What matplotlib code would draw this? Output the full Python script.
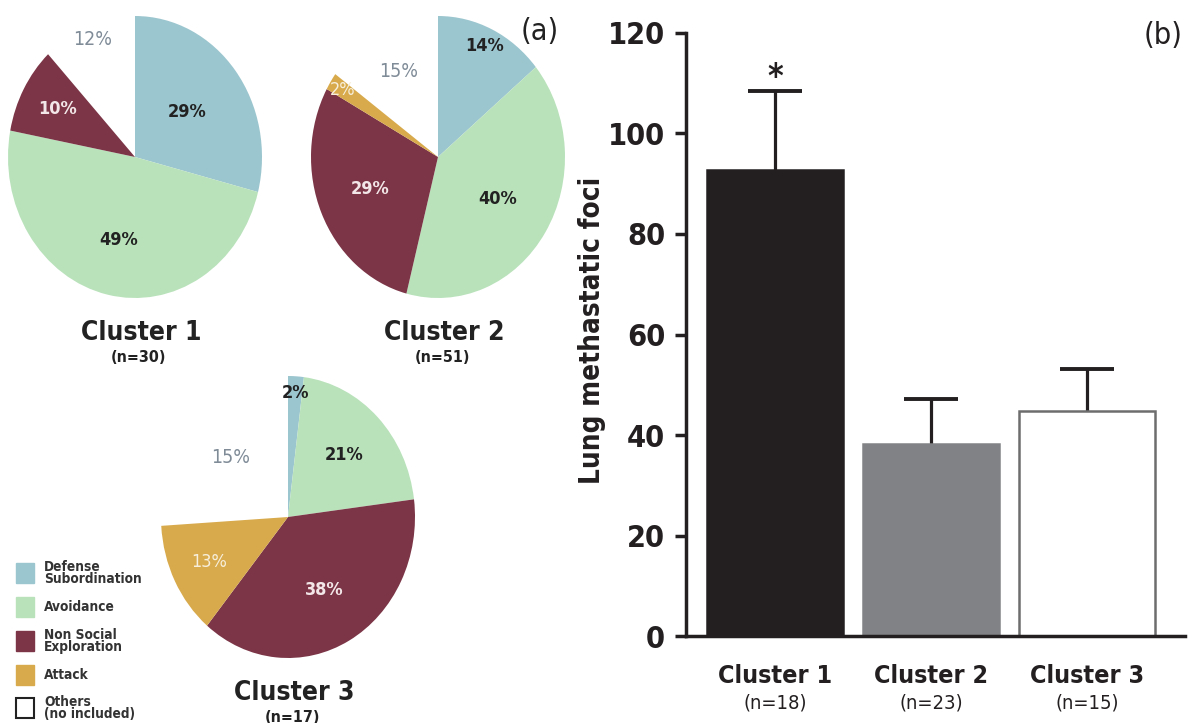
import matplotlib
matplotlib.use('Agg')
import matplotlib.pyplot as plt
import numpy as np

plt.rcParams['font.family'] = ['DejaVu Sans']
plt.rcParams['font.stretch'] = 'condensed'

# pie data (percent), clockwise from the top
behaviours = ['Defense\nSubordination', 'Avoidance', 'Non Social\nExploration', 'Attack']
pie_colors = ['#9cc6cf', '#b9e2bb', '#7b3546', '#d8aa4c']
cluster1_pct = [29, 49, 10, 0]
cluster2_pct = [14, 40, 29, 2]
cluster3_pct = [2, 21, 38, 13]
others_pct = [12, 15, 15]
pie_titles = ['Cluster 1', 'Cluster 2', 'Cluster 3']
pie_n = ['(n=30)', '(n=51)', '(n=17)']

# bar data
bar_labels = ['Cluster 1', 'Cluster 2', 'Cluster 3']
bar_n = ['(n=18)', '(n=23)', '(n=15)']
foci_mean = [92.7, 38.3, 44.7]
foci_sem = [15.7, 8.9, 8.4]

W, H = 1191, 723
fig = plt.figure(figsize=(W / 100, H / 100), dpi=100)


def px_axes(cx, cy, rx, ry):
    return fig.add_axes([(cx - rx) / W, 1 - (cy + ry) / H, 2 * rx / W, 2 * ry / H])


label_col = ['#222222', '#222222', '#f3e6e8', '#f7efdc']
label_wt = ['bold', 'bold', 'bold', 'normal']
# label radius per wedge (layout only)
label_r = [[0.52, 0.6, 0.7, 0.6], [0.87, 0.56, 0.58, 0.89], [0.88, 0.62, 0.59, 0.7]]
other_r = [0.9, 0.68, 0.62]
centers = [(135, 157), (438, 157), (288, 517)]
pcts = [cluster1_pct, cluster2_pct, cluster3_pct]

for k, (cx, cy) in enumerate(centers):
    ax = px_axes(cx, cy, 127, 141)
    vals = [p / 100 for p in pcts[k]]
    wedges, _ = ax.pie(vals, colors=pie_colors, startangle=90, counterclock=False,
                       normalize=False, radius=1)
    ax.set_aspect('auto')
    ax.set_xlim(-1, 1)
    ax.set_ylim(-1, 1)
    for i, w in enumerate(wedges):
        if pcts[k][i] == 0:
            continue
        a = np.deg2rad((w.theta1 + w.theta2) / 2)
        r = label_r[k][i]
        ax.text(r * np.cos(a), r * np.sin(a), f'{pcts[k][i]}%', ha='center', va='center',
                fontsize=13, color=label_col[i], fontweight=label_wt[i])
    # the white gap left for "others"
    end = min(w.theta1 for w in wedges)
    a = np.deg2rad((end - 270) / 2)
    ax.text(other_r[k] * np.cos(a), other_r[k] * np.sin(a), f'{others_pct[k]}%',
            ha='center', va='center', fontsize=14, color='#7f8b97')
    ty = cy + 176
    fig.text((cx + 6) / W, 1 - ty / H, pie_titles[k], ha='center', va='center',
             fontsize=19, fontweight='bold', color='#222222')
    fig.text((cx + 4) / W, 1 - (ty + 24) / H, pie_n[k], ha='center', va='center',
             fontsize=11.5, fontweight='bold', color='#222222')

fig.text(540 / W, 1 - 32 / H, '(a)', ha='center', va='center', fontsize=22, color='#222222')

# legend
leg_y = [573, 607, 641, 675, 708]
for i, y in enumerate(leg_y):
    if i < 4:
        fig.patches.append(plt.Rectangle((16 / W, 1 - (y + 10) / H), 18 / W, 20 / H,
                                         transform=fig.transFigure, color=pie_colors[i]))
        txt = behaviours[i]
    else:
        fig.patches.append(plt.Rectangle((16 / W, 1 - (y + 10) / H), 18 / W, 20 / H,
                                         transform=fig.transFigure, facecolor='white',
                                         edgecolor='#222222', lw=1.5))
        txt = 'Others\n(no included)'
    fig.text(44 / W, 1 - y / H, txt, ha='left', va='center', fontsize=9.8,
             fontweight='bold', color='#333333', linespacing=0.85)

# bar chart
bx = fig.add_axes([686 / W, 1 - 636.3 / H, (1185 - 686) / W, (636.3 - 32.7) / H])
x = np.arange(len(foci_mean))
bx.bar(x, foci_mean, width=0.87, color=['#231f20', '#818285', 'white'],
       edgecolor=['#231f20', '#818285', '#6d6d6d'], linewidth=1.8, zorder=2)
eb = bx.errorbar(x, foci_mean, yerr=[[0, 0, 0], foci_sem], fmt='none', ecolor='#231f20',
                 elinewidth=2.3, capsize=19.5, capthick=2.8, zorder=1)
eb.lines[1][0].set_visible(False)
bx.text(0, foci_mean[0] + foci_sem[0] + 2.6, '*', ha='center', va='center', fontsize=24,
        fontweight='bold', color='#231f20')
bx.set_xlim(-0.57, 2.63)
bx.set_ylim(0, 120)
bx.set_yticks([0, 20, 40, 60, 80, 100, 120])
bx.tick_params(axis='y', length=8, width=2.5, labelsize=22, pad=7, colors='#231f20')
for t in bx.get_yticklabels():
    t.set_fontweight('bold')
bx.set_xticks([])
for s in ['top', 'right']:
    bx.spines[s].set_visible(False)
for s in ['left', 'bottom']:
    bx.spines[s].set_linewidth(2.5)
    bx.spines[s].set_color('#231f20')
fig.text(592 / W, 1 - 330 / H, 'Lung methastatic foci', rotation=90, ha='center',
         va='center', fontsize=20, fontweight='bold', color='#231f20')
for i in range(len(bar_labels)):
    bx.text(x[i], -0.066, bar_labels[i], transform=bx.get_xaxis_transform(), ha='center',
            va='center', fontsize=18, fontweight='bold', color='#231f20')
    bx.text(x[i], -0.11, bar_n[i], transform=bx.get_xaxis_transform(), ha='center',
            va='center', fontsize=14.5, color='#231f20')
fig.text(1163 / W, 1 - 35 / H, '(b)', ha='center', va='center', fontsize=22, color='#231f20')

fig.savefig('out.png', dpi=100)
